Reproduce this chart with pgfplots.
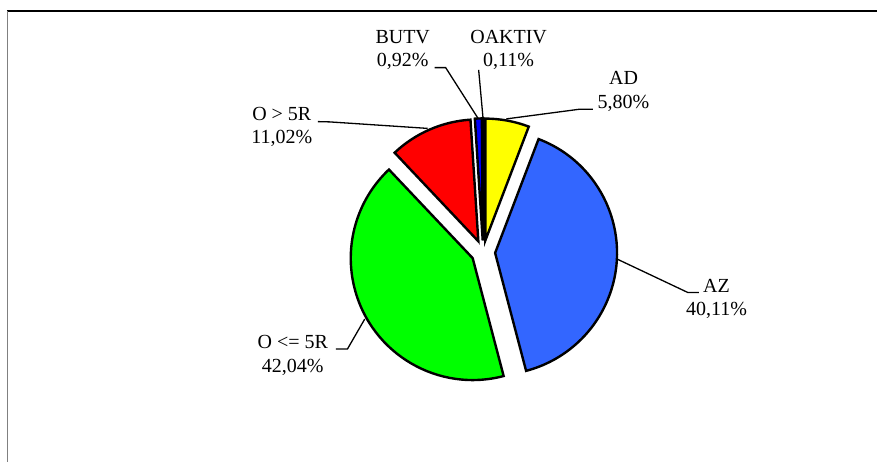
\documentclass[border=0pt]{standalone}
\usepackage{pgfplots}
\pgfplotsset{compat=1.18}
\usepackage{fontspec}
\setmainfont{Liberation Serif}
\definecolor{ADc}{HTML}{FFFF00}
\definecolor{AZc}{HTML}{3366FF}
\definecolor{GRc}{HTML}{00FF00}
\definecolor{REc}{HTML}{FF0000}
\definecolor{BUc}{HTML}{0000FF}
\definecolor{OAc}{HTML}{993366}
\begin{document}
\begin{tikzpicture}
\begin{axis}[width=878bp, height=462bp, scale only axis,
  xmin=0, xmax=878, ymin=0, ymax=462, hide axis, clip=false]
\addplot[draw=none] coordinates {(0,0) (878,462)};
\pgfplotsextra{
  \path (axis cs:0,0) (axis cs:878,462);
  % frame (top and left)
  \draw[black, line width=1.3bp] (axis cs:7,451) -- (axis cs:878,451);
  \draw[gray, line width=1.5bp] (axis cs:7.5,451) -- (axis cs:7.5,0);
  % pie: values in percent, clockwise from 12 o'clock
  \gdef\cum{0}
  \foreach \v/\col in {5.80/ADc, 40.11/AZc, 42.04/GRc, 11.02/REc, 0.92/BUc, 0.11/OAc}{
    \pgfmathsetmacro\aS{90-3.6*\cum}
    \pgfmathsetmacro\aE{90-3.6*(\cum+\v)}
    \pgfmathsetmacro\aM{(\aS+\aE)/2}
    \pgfmathsetmacro\px{483.5+12*cos(\aM)}
    \pgfmathsetmacro\py{209.5+12*sin(\aM)}
    \filldraw[fill=\col, draw=black, line width=2.4bp, line join=miter]
      (axis cs:\px,\py) -- ++(\aS:122bp) arc[start angle=\aS, end angle=\aE, radius=122bp] -- cycle;
    \pgfmathsetmacro\newcum{\cum+\v}
    \xdef\cum{\newcum}
  }
  % leader lines (image y converted: 462 - y)
  \begin{scope}[line width=1.3bp, black]
  \draw (axis cs:435,394.3) -- (axis cs:446,394.3) -- (axis cs:478.5,343.4);
  \draw (axis cs:479,392) -- (axis cs:483.4,343.6);
  \draw (axis cs:506.7,343) -- (axis cs:580,352.7) -- (axis cs:593.3,352.7);
  \draw (axis cs:318,340.3) -- (axis cs:330,340) -- (axis cs:428,333.5);
  \draw (axis cs:336,112.7) -- (axis cs:347.7,112.7) -- (axis cs:365,142.7);
  \draw (axis cs:617,203) -- (axis cs:688.3,169.3) -- (axis cs:699.3,169.3);
  \end{scope}
  % labels
  \begin{scope}[every node/.style={align=center, inner sep=0pt, font=\fontsize{20bp}{23.5bp}\selectfont}]
  \node at (axis cs:403,412) {BUTV\\0,92\%};
  \node at (axis cs:509,412) {OAKTIV\\0,11\%};
  \node at (axis cs:624,370.5) {AD\\5,80\%};
  \node at (axis cs:282,335) {O > 5R\\11,02\%};
  \node at (axis cs:293,106.5) {O <= 5R\\42,04\%};
  \node at (axis cs:717,163) {AZ\\40,11\%};
  \end{scope}
}
\end{axis}
\end{tikzpicture}
\end{document}
